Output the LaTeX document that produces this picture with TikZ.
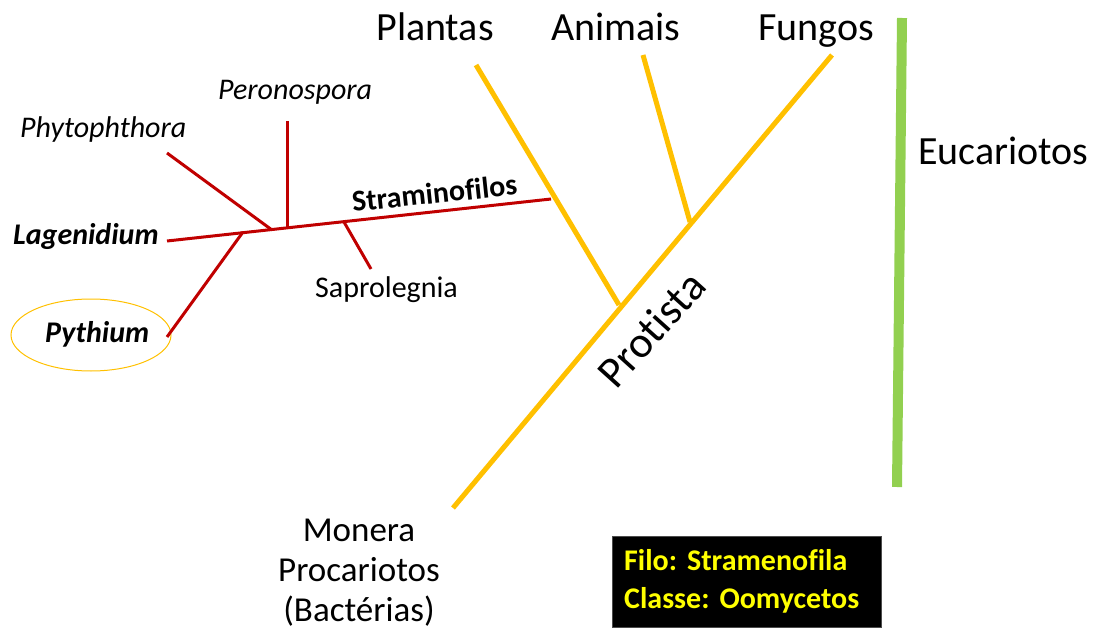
\documentclass[tikz,border=0pt]{standalone}
\usepackage{fontspec}
\setmainfont{Carlito}[Ligatures=NoCommon]
\usetikzlibrary{shapes.geometric}
\definecolor{oored}{HTML}{C00000}
\definecolor{treeyellow}{HTML}{FFC000}
\definecolor{eugreen}{HTML}{92D050}
\definecolor{filoyellow}{HTML}{FFFF00}
\frenchspacing
\begin{document}
\begin{tikzpicture}[x=1pt, y=-1pt, every node/.style={inner sep=0pt},
    big/.style={font=\fontsize{40}{48}\selectfont},
    small/.style={font=\fontsize{30}{36}\selectfont},
    redline/.style={draw=oored, line width=3pt},
    yellowline/.style={draw=treeyellow, line width=5pt}]
        \useasboundingbox (0,0) rectangle (1098,631);
        % kingdoms
        \node[big, anchor=base] (plantas) at (435,41) {Plantas};
        \node[big, anchor=base] (animais) at (616,41) {Animais};
        \node[big, anchor=base] (fungos) at (816,41) {Fungos};
        \node[big, anchor=base west] (euc) at (918,165) {Eucariotos};
        \node[font=\fontsize{44}{50}\selectfont, rotate=48] (protista) at (651,329) {Protista};
        \node[font=\fontsize{35}{40}\selectfont, align=center, anchor=base] (monera) at (359,621) {Monera\\Procariotos\\(Bactérias)};
        % oomycetes
        \node[small, anchor=base west] (peron) at (218,100) {\itshape Peronospora};
        \node[small, anchor=base west] (phyto) at (20,138) {\itshape Phytophthora};
        \node[small, anchor=base west] (lagen) at (13,245) {\bfseries\itshape Lagenidium};
        \node[small, anchor=base west] (pyth) at (45,342) {\bfseries\itshape Pythium};
        \node[small, anchor=base west] (sapro) at (315,298) {Saprolegnia};
        \node[font=\bfseries\fontsize{30}{36}\selectfont, anchor=base west, rotate=6] (stram) at (353,212) {Straminofilos};
        \node[ellipse, draw=treeyellow, line width=1pt, minimum width=160, minimum height=72] (ring) at (91,335) {};
        \node[fill=black, draw=black!70, anchor=north west, text width=245pt, inner xsep=12pt,
              minimum height=91, align=left, text=filoyellow, font=\bfseries\fontsize{30}{38}\selectfont] (filo) at (612,536) {Filo: Stramenofila\\Classe: Oomycetos};
        % tree points
        \coordinate (root) at (453,508);
        \coordinate (ftip) at (832,55);
        \coordinate (ptip) at (476,65);
        \coordinate (atip) at (643,55);
        \coordinate (pjoin) at (619,305);
        \coordinate (ajoin) at (690,222);
        \coordinate (sjoin) at (551,199);
        \coordinate (lagtip) at (167,241);
        \coordinate (phytip) at (167,153);
        \coordinate (phyjoin) at (272,230);
        \coordinate (pertip) at (287,121);
        \coordinate (perjoin) at (287,228);
        \coordinate (pytip) at (167,337);
        \coordinate (pyjoin) at (243,232);
        \coordinate (saptip) at (371,269);
        \coordinate (sapjoin) at (344,222);
        \draw[yellowline] (root)--(ftip);
        \draw[yellowline] (ptip)--(pjoin);
        \draw[yellowline] (atip)--(ajoin);
        \draw[redline] (lagtip)--(sjoin);
        \draw[redline] (phytip)--(phyjoin);
        \draw[redline] (pertip)--(perjoin);
        \draw[redline] (pytip)--(pyjoin);
        \draw[redline] (saptip)--(sapjoin);
        \draw[eugreen, line width=10pt] (902,18)--(897,487);
    \end{tikzpicture}
\end{document}
